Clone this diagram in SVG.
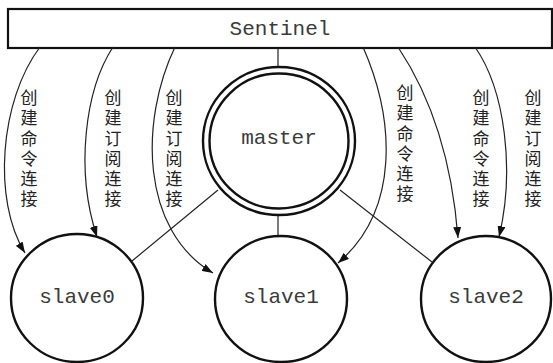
<svg xmlns="http://www.w3.org/2000/svg" width="553" height="363" viewBox="0 0 553 363">
<defs>
<style>
.box{fill:#fff;stroke:#111;stroke-width:2.2}
.node{fill:#fff;stroke:#111;stroke-width:2.4}
.mono{font-family:"Liberation Mono","DejaVu Sans Mono",monospace;font-size:21px;fill:#3a3a3a;text-anchor:middle}
.cjk{font-family:"Noto Sans CJK SC","Noto Sans CJK JP",sans-serif;font-size:17px;fill:#222;text-anchor:middle}
.edge{fill:none;stroke:#222;stroke-width:1.2}
.arr{fill:none;stroke:#222;stroke-width:1.2;marker-end:url(#ah)}
</style>
<marker id="ah" markerUnits="userSpaceOnUse" markerWidth="12" markerHeight="8" refX="11" refY="4" orient="auto">
<path d="M0,0 L11,4 L0,8 Z" fill="#111"/>
</marker>
</defs>
<rect width="553" height="363" fill="#fff"/>

<g id="sentinel">
<rect class="box" x="8" y="9" width="544" height="39"/>
<text class="mono" x="280" y="35">Sentinel</text>
</g>

<g id="connectors">
<line class="edge" x1="278" y1="48" x2="278" y2="67"/>
<line class="edge" x1="278" y1="215" x2="278" y2="236"/>
<line class="edge" x1="218" y1="190" x2="132" y2="261"/>
<line class="edge" x1="340" y1="190" x2="432" y2="262"/>
<path class="arr" d="M40,47 C0,100 -8,200 25,253"/>
<path class="arr" d="M113,47 C85,90 75,170 97,237"/>
<path class="arr" d="M175,47 C140,120 140,230 213,273"/>
<path class="arr" d="M363,47 C395,120 400,210 338,263"/>
<path class="arr" d="M398,47 C430,95 452,160 458,238"/>
<path class="arr" d="M475,47 C505,90 515,170 499,237"/>
</g>

<g id="master">
<ellipse class="node" cx="279" cy="141" rx="76" ry="74"/>
<ellipse class="node" cx="279" cy="141" rx="69.5" ry="67.5"/>
<text class="mono" x="279" y="144">master</text>
</g>

<g id="slave0">
<ellipse class="node" cx="77" cy="298" rx="66" ry="64"/>
<text class="mono" x="77" y="303">slave0</text>
</g>
<g id="slave1">
<ellipse class="node" cx="281" cy="299" rx="66" ry="63"/>
<text class="mono" x="281" y="303">slave1</text>
</g>
<g id="slave2">
<ellipse class="node" cx="486" cy="299" rx="65" ry="63"/>
<text class="mono" x="486" y="303">slave2</text>
</g>

<g id="labels">
<text class="cjk"><tspan x="29" y="104">创</tspan><tspan x="29" y="124">建</tspan><tspan x="29" y="144.5">命</tspan><tspan x="29" y="164.5">令</tspan><tspan x="29" y="185">连</tspan><tspan x="29" y="205">接</tspan></text>
<text class="cjk"><tspan x="113" y="104">创</tspan><tspan x="113" y="124">建</tspan><tspan x="113" y="144.5">订</tspan><tspan x="113" y="164.5">阅</tspan><tspan x="113" y="185">连</tspan><tspan x="113" y="205">接</tspan></text>
<text class="cjk"><tspan x="174" y="104">创</tspan><tspan x="174" y="124">建</tspan><tspan x="174" y="144.5">订</tspan><tspan x="174" y="164.5">阅</tspan><tspan x="174" y="185">连</tspan><tspan x="174" y="205">接</tspan></text>
<text class="cjk"><tspan x="405" y="99">创</tspan><tspan x="405" y="119">建</tspan><tspan x="405" y="139.5">命</tspan><tspan x="405" y="159.5">令</tspan><tspan x="405" y="180">连</tspan><tspan x="405" y="200">接</tspan></text>
<text class="cjk"><tspan x="481" y="104">创</tspan><tspan x="481" y="124">建</tspan><tspan x="481" y="144.5">命</tspan><tspan x="481" y="164.5">令</tspan><tspan x="481" y="185">连</tspan><tspan x="481" y="205">接</tspan></text>
<text class="cjk"><tspan x="533" y="104">创</tspan><tspan x="533" y="124">建</tspan><tspan x="533" y="144.5">订</tspan><tspan x="533" y="164.5">阅</tspan><tspan x="533" y="185">连</tspan><tspan x="533" y="205">接</tspan></text>
</g>
</svg>
